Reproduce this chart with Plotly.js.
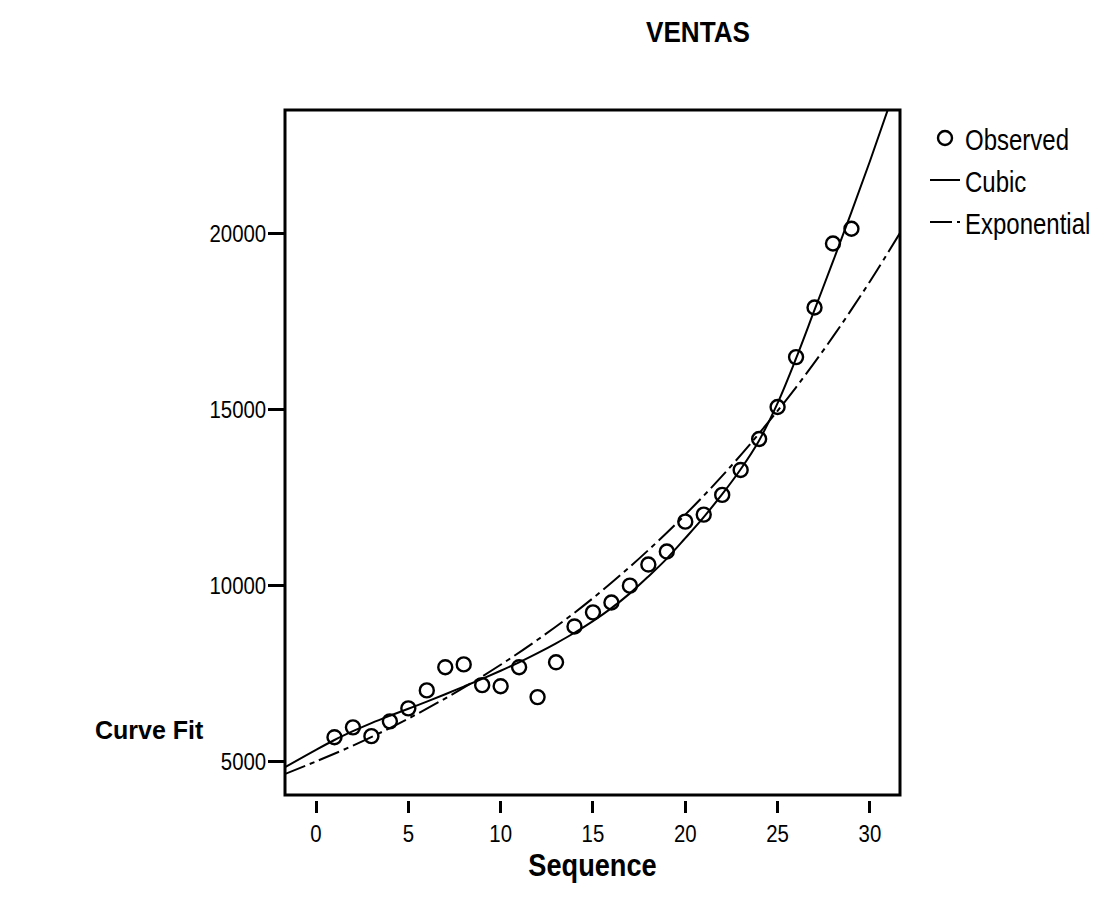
<!DOCTYPE html>
<html>
<head>
<meta charset="utf-8">
<script src="https://cdn.plot.ly/plotly-3.0.1.min.js"></script>
<style>html,body{margin:0;padding:0;background:#fff;}#chart{width:1094px;height:901px;}</style>
</head>
<body>
<div id="chart"></div>
<script>
// Observed data (Sequence, VENTAS)
const sequence = [1,2,3,4,5,6,7,8,9,10,11,12,13,14,15,16,17,18,19,20,21,22,23,24,25,26,27,28,29];
const ventas = [5680,5960,5710,6130,6500,7010,7670,7750,7160,7130,7670,6820,7810,8830,9230,9510,9990,10590,10960,11810,12010,12570,13280,14160,15070,16490,17900,19720,20140];

// Cubic fit curve
const cubicX = [-1.7,0,1,2,3,4,5,6,7,8,9,10,11,12,13,14,15,16,17,18,19,20,21,22,23,24,25,26,27,28,29,30,31];
const cubicY = [4820,5320,5600,5850,6080,6290,6490,6690,6900,7120,7340,7570,7810,8070,8350,8650,8980,9350,9770,10250,10760,11340,11940,12590,13300,14120,15180,16450,17830,19210,20610,22060,23570];

// Exponential fit curve
const expX = [-1.7,0,2,4,6,8,10,12,14,16,18,20,22,24,26,28,30,31.7];
const expY = [4630,4990,5440,5940,6490,7090,7740,8450,9220,10070,11000,12010,13110,14320,15630,17070,18640,20080];

const xTicks = [0,5,10,15,20,25,30];
const yTicks = [5000,10000,15000,20000];

const sans = '"Liberation Sans", Arial, sans-serif';

const traces = [
  {x: sequence, y: ventas, type: 'scatter', mode: 'markers', name: 'Observed',
   marker: {symbol: 'circle-open', size: 14, color: '#000', line: {color: '#000', width: 2.4}}},
  {x: cubicX, y: cubicY, type: 'scatter', mode: 'lines', name: 'Cubic',
   line: {color: '#000', width: 2, shape: 'spline'}},
  {x: expX, y: expY, type: 'scatter', mode: 'lines', name: 'Exponential',
   line: {color: '#000', width: 2, shape: 'spline', dash: '22px,5px,5px,5px'}}
];

const layout = {
  width: 1094, height: 901,
  margin: {l: 285, r: 194, t: 110, b: 101, autoexpand: false},
  paper_bgcolor: '#fff', plot_bgcolor: '#fff',
  showlegend: true,
  font: {family: sans, color: '#000', size: 18},
  title: {text: '<b>VENTAS</b>', x: 698/1094, xref: 'container', xanchor: 'center',
          y: 1 - 32/901, yref: 'container', yanchor: 'middle',
          font: {family: sans, size: 30, color: '#000'}},
  xaxis: {range: [-1.68, 31.63], anchor: 'free', position: 0,
          tickvals: xTicks, ticktext: xTicks.map(String),
          ticks: 'outside', ticklen: 12, tickwidth: 3, tickcolor: '#000',
          showline: false, showgrid: false, zeroline: false,
          tickfont: {family: sans, size: 24, color: '#000'},
          title: {text: '<b>Sequence</b>', font: {family: sans, size: 32, color: '#000'}, standoff: 4}},
  yaxis: {range: [4036, 23517], domain: [0.00725, 1],
          tickvals: yTicks, ticktext: yTicks.map(String),
          ticks: 'outside', ticklen: 16, tickwidth: 3, tickcolor: '#000',
          ticklabelstandoff: -3,
          showline: false, showgrid: false, zeroline: false,
          tickfont: {family: sans, size: 24, color: '#000'}},
  legend: {x: (925 - 285) / 615, y: (800 - 112) / 690, xanchor: 'left', yanchor: 'top',
           font: {family: sans, size: 30, color: '#000'},
           itemwidth: 30, bgcolor: 'rgba(0,0,0,0)'},
  shapes: [{type: 'rect', xref: 'paper', yref: 'y domain', x0: 0, x1: 1, y0: 0, y1: 1,
            line: {color: '#000', width: 3}, fillcolor: 'rgba(0,0,0,0)', layer: 'above'}],
  annotations: [{text: '<b>Curve Fit</b>', xref: 'paper', yref: 'paper',
                 x: (149 - 285) / 615, y: (800 - 730) / 690, xanchor: 'center', yanchor: 'middle',
                 showarrow: false, font: {family: sans, size: 25, color: '#000'}}]
};

// Narrow the text horizontally, like the condensed face in the reference
function squeeze(root, selector, sx) {
  root.querySelectorAll(selector).forEach(function (t) {
    const x = parseFloat(t.getAttribute('x') || 0);
    const y = parseFloat(t.getAttribute('y') || 0);
    const prev = t.getAttribute('transform') || '';
    t.setAttribute('transform', prev + ' translate(' + x + ',' + y + ') scale(' + sx + ',1) translate(' + (-x) + ',' + (-y) + ')');
  });
}

Plotly.newPlot('chart', traces, layout, {displayModeBar: false, staticPlot: true}).then(function (gd) {
  squeeze(gd, '.xtick text', 0.85);
  squeeze(gd, '.ytick text', 0.85);
  squeeze(gd, '.legendtext', 0.8);
  squeeze(gd, '.gtitle', 0.87);
  squeeze(gd, '.xtitle', 0.85);
});
</script>
</body>
</html>
